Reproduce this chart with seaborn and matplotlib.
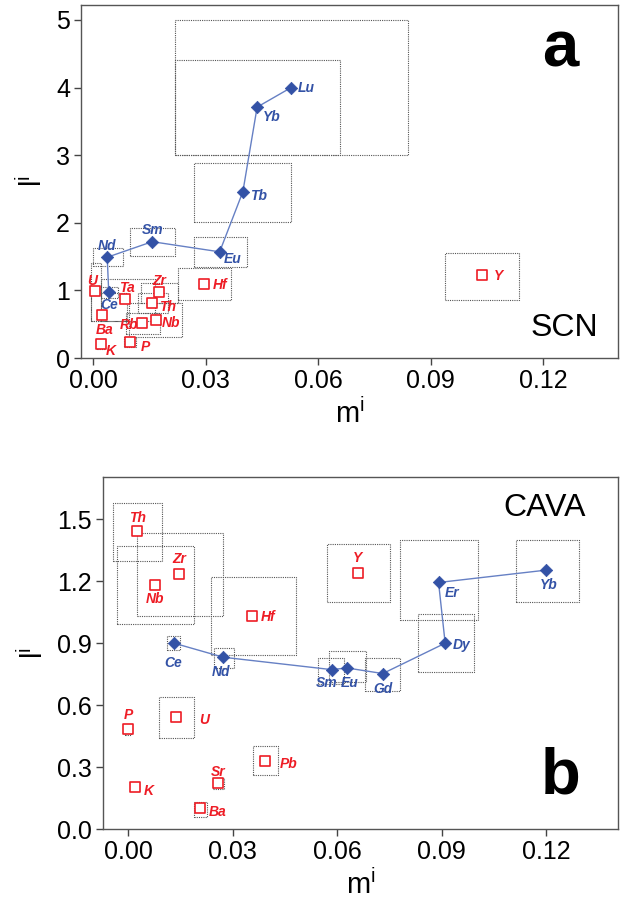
import matplotlib
matplotlib.use('Agg')
import matplotlib.pyplot as plt
import seaborn as sns
import pandas as pd
import numpy as np
from matplotlib.patches import Rectangle

# ---- panel a : SCN ----
a_ree = ['Ce', 'Nd', 'Sm', 'Eu', 'Tb', 'Yb', 'Lu']
a_ree_m = [0.0041, 0.0037, 0.0157, 0.0337, 0.0399, 0.0437, 0.0528]
a_ree_l = [0.97, 1.49, 1.72, 1.57, 2.46, 3.71, 4.00]

a_oth = ['U', 'Ta', 'Zr', 'Th', 'Ba', 'Rb', 'Nb', 'K', 'P', 'Hf', 'Y']
a_oth_m = [0.0005, 0.0085, 0.0176, 0.0157, 0.0024, 0.0130, 0.0166, 0.0020, 0.0099, 0.0296, 0.1037]
a_oth_l = [0.99, 0.87, 0.975, 0.82, 0.64, 0.52, 0.56, 0.20, 0.24, 1.09, 1.22]

# uncertainty boxes: m_low, m_high, l_low, l_high
a_box_mlo = [0.0218, 0.0218, 0.0269, 0.0097, 0.0000, 0.0269, 0.0227, 0.0938,
             -0.0007, 0.0020, -0.0007, 0.0020, 0.0127, 0.0118, 0.0094, 0.0087, 0.0010, 0.0082]
a_box_mhi = [0.0839, 0.0659, 0.0528, 0.0218, 0.0079, 0.0409, 0.0368, 0.1137,
             0.0020, 0.0065, 0.0089, 0.0165, 0.0227, 0.0199, 0.0237, 0.0177, 0.0032, 0.0115]
a_box_llo = [3.00, 3.00, 2.01, 1.51, 1.36, 1.34, 0.86, 0.86,
             0.54, 0.89, 0.54, 0.54, 0.81, 0.67, 0.31, 0.35, 0.13, 0.16]
a_box_lhi = [5.00, 4.40, 2.89, 1.92, 1.63, 1.79, 1.33, 1.56,
             1.40, 1.05, 0.96, 1.17, 1.11, 0.96, 0.81, 0.66, 0.25, 0.31]

# ---- panel b : CAVA ----
b_ree = ['Ce', 'Nd', 'Sm', 'Eu', 'Gd', 'Dy', 'Er', 'Yb']
b_ree_m = [0.0132, 0.0273, 0.0584, 0.0628, 0.0731, 0.0910, 0.0891, 0.1200]
b_ree_l = [0.900, 0.832, 0.772, 0.780, 0.753, 0.900, 1.194, 1.254]

b_oth = ['Th', 'Zr', 'Nb', 'Hf', 'Y', 'U', 'P', 'Pb', 'Sr', 'K', 'Ba']
b_oth_m = [0.0027, 0.0147, 0.0076, 0.0357, 0.0659, 0.0137, 0.0000, 0.0392, 0.0258, 0.0019, 0.0207]
b_oth_l = [1.444, 1.233, 1.183, 1.031, 1.242, 0.541, 0.486, 0.331, 0.221, 0.205, 0.100]

b_box_mlo = [-0.0042, 0.0027, -0.0033, 0.0238, 0.0570, 0.0780, 0.1113, 0.0833, 0.0111,
             0.0247, 0.0546, 0.0578, 0.0681, 0.0088, -0.0010, 0.0359, 0.0244, 0.0008, 0.0189]
b_box_mhi = [0.0098, 0.0271, 0.0188, 0.0481, 0.0752, 0.1003, 0.1294, 0.0994, 0.0150,
             0.0304, 0.0621, 0.0682, 0.0780, 0.0189, 0.0008, 0.0429, 0.0275, 0.0031, 0.0227]
b_box_llo = [1.300, 1.031, 0.992, 0.842, 1.099, 1.011, 1.099, 0.761, 0.868,
             0.780, 0.703, 0.711, 0.669, 0.439, 0.455, 0.260, 0.192, 0.190, 0.060]
b_box_lhi = [1.580, 1.433, 1.373, 1.221, 1.380, 1.399, 1.399, 1.040, 0.934,
             0.879, 0.830, 0.861, 0.829, 0.638, 0.504, 0.400, 0.245, 0.220, 0.130]

# label offsets in pixels (dx, dy), layout only
a_ree_off = {'Ce': (0, -13), 'Nd': (0, 11), 'Sm': (0, 12), 'Eu': (13, -7),
             'Tb': (16, -4), 'Yb': (15, -10), 'Lu': (15, 0)}
a_oth_off = {'U': (-3, 10), 'Ta': (2, 11), 'Zr': (0, 11), 'Th': (15, -4), 'Ba': (2, -15),
             'Rb': (-13, -2), 'Nb': (15, -3), 'K': (10, -7), 'P': (15, -5), 'Hf': (16, -1), 'Y': (16, -1)}
b_ree_off = {'Ce': (-1, -20), 'Nd': (-2, -15), 'Sm': (-5, -13), 'Eu': (3, -15), 'Gd': (0, -15),
             'Dy': (16, -2), 'Er': (14, -11), 'Yb': (2, -15)}
b_oth_off = {'Th': (0, 13), 'Zr': (0, 15), 'Nb': (0, -14), 'Hf': (16, -1), 'Y': (0, 15),
             'U': (28, -3), 'P': (0, 14), 'Pb': (24, -3), 'Sr': (0, 11), 'K': (14, -4), 'Ba': (17, -4)}

sns.set_style("ticks")
plt.rcParams['font.family'] = ['Liberation Sans', 'DejaVu Sans']
plt.rcParams['mathtext.fontset'] = 'custom'
plt.rcParams['mathtext.rm'] = 'Liberation Sans'
plt.rcParams['text.color'] = 'black'
plt.rcParams['axes.labelcolor'] = 'black'
plt.rcParams['xtick.labelcolor'] = 'black'
plt.rcParams['ytick.labelcolor'] = 'black'

BLUE = '#3352a6'
LINE = '#6680c4'
RED = '#ee1c25'
BOX = '#555555'

fig = plt.figure(figsize=(6.23, 9.13), dpi=100)
ax_a = fig.add_axes([81 / 623, 1 - 358 / 913, 537 / 623, 353 / 913])
ax_b = fig.add_axes([103 / 623, 1 - 829 / 913, 515 / 623, 352 / 913])


def draw(ax, ree, ree_m, ree_l, oth, oth_m, oth_l, mlo, mhi, llo, lhi, ree_off, oth_off):
    for x0, x1, y0, y1 in zip(mlo, mhi, llo, lhi):
        ax.add_patch(Rectangle((x0, y0), x1 - x0, y1 - y0, fill=False,
                               ec=BOX, ls=(0, (1, 1)), lw=0.8, zorder=1))
    ree_df = pd.DataFrame({'m': ree_m, 'l': ree_l, 'el': ree})
    oth_df = pd.DataFrame({'m': oth_m, 'l': oth_l, 'el': oth})
    sns.lineplot(data=ree_df, x='m', y='l', sort=False, color=LINE, lw=1.0, ax=ax, zorder=2)
    sns.scatterplot(data=ree_df, x='m', y='l', marker='D', s=40, color=BLUE,
                    edgecolor=BLUE, ax=ax, zorder=3)
    sns.scatterplot(data=oth_df, x='m', y='l', marker='s', s=48, facecolor='white',
                    edgecolor=RED, linewidth=1.2, ax=ax, zorder=3)
    for _, r in ree_df.iterrows():
        ax.annotate(r['el'], (r['m'], r['l']), xytext=ree_off[r['el']], textcoords='offset pixels',
                    ha='center', va='center', color=BLUE, fontsize=10,
                    fontstyle='italic', fontweight='bold')
    for _, r in oth_df.iterrows():
        ax.annotate(r['el'], (r['m'], r['l']), xytext=oth_off[r['el']], textcoords='offset pixels',
                    ha='center', va='center', color=RED, fontsize=10,
                    fontstyle='italic', fontweight='bold')
    ax.set_xticks([0.0, 0.03, 0.06, 0.09, 0.12])
    ax.set_xticklabels(['0.00', '0.03', '0.06', '0.09', '0.12'])
    ax.tick_params(axis='both', labelsize=18, direction='out', length=5, width=1,
                   color='#444444', labelcolor='black', top=False, right=False, pad=3)
    for s in ax.spines.values():
        s.set_color('#555555')
        s.set_linewidth(1.0)
    ax.set_xlabel(r'm$^\mathregular{i}$', fontsize=21, labelpad=4, color='black')
    ax.set_ylabel(r'l$^\mathregular{i}$', fontsize=21, labelpad=6, color='black')


draw(ax_a, a_ree, a_ree_m, a_ree_l, a_oth, a_oth_m, a_oth_l,
     a_box_mlo, a_box_mhi, a_box_llo, a_box_lhi, a_ree_off, a_oth_off)
ax_a.set_xlim(-0.0033, 0.14)
ax_a.set_ylim(0, 5.22)
ax_a.set_yticks([0, 1, 2, 3, 4, 5])
ax_a.text(0.893, 0.873, 'a', transform=ax_a.transAxes, ha='center', va='center',
          fontsize=47, fontweight='bold', color='black')
ax_a.text(0.90, 0.085, 'SCN', transform=ax_a.transAxes, ha='center', va='center',
          fontsize=23, color='black')

draw(ax_b, b_ree, b_ree_m, b_ree_l, b_oth, b_oth_m, b_oth_l,
     b_box_mlo, b_box_mhi, b_box_llo, b_box_lhi, b_ree_off, b_oth_off)
ax_b.set_xlim(-0.0072, 0.1406)
ax_b.set_ylim(0, 1.705)
ax_b.set_yticks([0.0, 0.3, 0.6, 0.9, 1.2, 1.5])
ax_b.set_yticklabels(['0.0', '0.3', '0.6', '0.9', '1.2', '1.5'])
ax_b.text(0.858, 0.912, 'CAVA', transform=ax_b.transAxes, ha='center', va='center',
          fontsize=23, color='black')
ax_b.text(0.889, 0.148, 'b', transform=ax_b.transAxes, ha='center', va='center',
          fontsize=47, fontweight='bold', color='black')

fig.savefig('out.png', dpi=100)
